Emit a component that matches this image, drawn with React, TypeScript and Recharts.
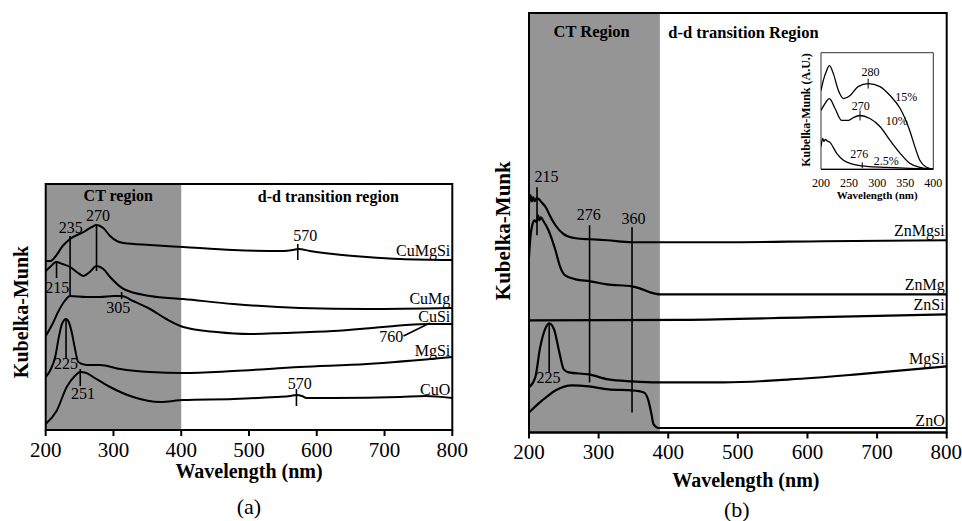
import React from 'react';
import {
  LineChart,
  Line,
  XAxis,
  YAxis,
  ReferenceArea,
  ReferenceLine,
  ReferenceDot,
} from 'recharts';

const FONT = "'Liberation Serif', 'Times New Roman', 'DejaVu Serif', serif";

// ---------- panel (a): Cu samples ----------
const aTicks = [200, 300, 400, 500, 600, 700, 800];

const cuMgSiNm = [200, 207, 215, 225, 236, 256, 268, 275, 285, 295, 305, 315, 354, 403, 477, 551, 565, 573, 590, 624, 674, 723, 800];
const cuMgSiKm = [169, 169, 174, 184, 191, 198, 203, 205, 202, 194, 189, 187, 185, 183, 180, 179, 180, 181, 179, 176, 173, 171, 170];

const cuMgNm = [200, 208, 215, 225, 236, 248, 256, 265, 275, 285, 295, 315, 354, 403, 477, 575, 674, 800];
const cuMgKm = [159, 164, 168, 166, 163, 157, 154, 158, 164, 161, 153, 141, 134, 131, 126, 122, 121, 122];

const cuSiNm = [200, 210, 219, 228, 236, 260, 280, 300, 312, 329, 354, 378, 403, 452, 501, 551, 624, 698, 762, 800];
const cuSiKm = [94, 106, 119, 129, 134, 133, 133, 134, 134, 129, 121, 111, 103, 98, 96, 97, 99, 103, 106, 106];

const mgSiANm = [200, 207, 214, 220, 224, 230, 234, 238, 243, 248, 260, 280, 310, 354, 403, 477, 575, 674, 800];
const mgSiAKm = [53, 60, 73, 95, 106, 111, 108, 99, 82, 68, 65, 65, 61, 58, 57, 59, 63, 66, 73];

const cuONm = [200, 216, 231, 243, 251, 260, 270, 295, 329, 369, 403, 477, 540, 561, 570, 578, 585, 624, 723, 760, 800];
const cuOKm = [6, 19, 43, 54, 58, 57, 53, 43, 33, 28, 30, 31, 33, 34, 35, 34, 32, 32, 33, 34, 32];

const aNames = ['CuMgSi', 'CuMg', 'CuSi', 'MgSi', 'CuO'];
const aNameKm = [180, 132, 114, 80, 41];

const aPeakNm = [275, 236, 216, 312, 230, 251, 572, 570];
const aPeakTop = [205, 194, 169, 138, 111, 61, 186, 41];
const aPeakBottom = [159, 133, 152, 131, 71, 44, 170, 24];

const aNoteText = ['270', '235', '215', '305', '225', '251', '570', '570', '760'];
const aNoteNm = [277, 237, 217, 307, 230, 255, 583, 575, 710];
const aNoteKm = [215, 203, 143, 123, 67, 37, 195, 47, 94];

// ---------- panel (b): Zn samples ----------
const znMgSiNm = [200, 202, 204, 206, 208, 211, 214, 218, 225, 229, 238, 250, 267, 288, 312, 348, 388, 479, 623, 800];
const znMgSiKm = [228, 237, 231, 235, 231, 234, 233, 230, 224, 218, 207, 198, 194, 193, 192, 190, 190, 190, 191, 192];

const znMgNm = [200, 202, 205, 208, 211, 213, 215, 217, 220, 228, 238, 245, 252, 267, 288, 312, 348, 359, 374, 388, 500, 800];
const znMgKm = [175, 195, 208, 212, 210, 217, 212, 215, 212, 202, 182, 165, 157, 153, 151, 148, 146, 144, 140, 138, 138, 138];

const znSiNm = [200, 420, 600, 800];
const znSiKm = [112, 112.5, 115, 118];

const mgSiBNm = [200, 209, 216, 223, 229, 236, 243, 250, 257, 286, 314, 348, 386, 479, 575, 671, 800];
const mgSiBKm = [45, 55, 85, 103, 109, 103, 82, 63, 60, 58, 53, 51, 50, 50, 53, 58, 66];

const znONm = [200, 219, 238, 262, 286, 314, 348, 365, 371, 376, 379, 386, 500, 800];
const znOKm = [20, 32, 42, 47, 46, 43, 42, 40, 33, 18, 8, 4.5, 4.5, 4.5];

const bNames = ['ZnMgsi', 'ZnMg', 'ZnSi', 'MgSi', 'ZnO'];
const bNameKm = [202, 148, 128, 74, 12];

const bPeakNm = [211.5, 287, 348, 229];
const bPeakTop = [245, 207, 205, 109];
const bPeakBottom = [197, 50, 20, 60];

const bNoteText = ['215', '276', '360', '225'];
const bNoteNm = [225, 286, 350, 228];
const bNoteKm = [256, 218, 214, 55];

// ---------- inset: ZnO loading ----------
const insetTicks = [200, 250, 300, 350, 400];

const p15Nm = [200, 204, 210, 215, 222, 231, 240, 252, 266, 284, 305, 323, 341, 358, 367, 376, 388, 400];
const p15Km = [79, 89, 99, 104, 96, 79, 71, 74, 83, 86, 83, 74, 61, 39, 23, 9, 2, 0];

const p10Nm = [200, 207, 215, 225, 237, 249, 258, 269, 287, 305, 323, 341, 358, 376, 400];
const p10Km = [59, 66, 71, 61, 49, 49, 52, 54, 51, 43, 29, 16, 6, 2, 0];

const p25Nm = [200, 203, 205, 208, 210, 216, 228, 240, 258, 281, 317, 358, 400];
const p25Km = [23, 31, 28, 30, 29, 27, 16, 9, 5, 3, 2, 1, 0];

const insetPeakNm = [284, 269.5, 273.5];
const insetPeakTop = [91, 59, 7];
const insetPeakBottom = [81, 49, 1];

const insetNoteText = ['280', '270', '276', '15%', '10%', '2.5%'];
const insetNoteNm = [288, 271, 268, 352, 335, 316];
const insetNoteKm = [98, 64, 16, 73, 49, 9];

type Pt = { nm: number; km: number };
const zip = (nm: number[], km: number[]): Pt[] => nm.map((v, i) => ({ nm: v, km: km[i] }));

const aCurves = [zip(cuMgSiNm, cuMgSiKm), zip(cuMgNm, cuMgKm), zip(cuSiNm, cuSiKm), zip(mgSiANm, mgSiAKm), zip(cuONm, cuOKm)];
const bCurves = [zip(znMgSiNm, znMgSiKm), zip(znMgNm, znMgKm), zip(znSiNm, znSiKm), zip(mgSiBNm, mgSiBKm), zip(znONm, znOKm)];
const insetCurves = [zip(p15Nm, p15Km), zip(p10Nm, p10Km), zip(p25Nm, p25Km)];

function curves(list: Pt[][], width: number) {
  return list.map((d, i) => (
    <Line
      key={`c${i}`}
      data={d}
      dataKey='km'
      type='monotone'
      stroke='#000'
      strokeWidth={width}
      dot={false}
      isAnimationActive={false}
    />
  ));
}

function peaks(nm: number[], top: number[], bottom: number[], width: number) {
  return nm.map((x, i) => (
    <ReferenceLine
      key={`p${i}`}
      segment={[{ x, y: top[i] }, { x, y: bottom[i] }]}
      stroke='#000'
      strokeWidth={width}
      ifOverflow='visible'
    />
  ));
}

function notes(nm: number[], km: number[], text: string[], size: number) {
  return text.map((t, i) => (
    <ReferenceDot
      key={`n${i}`}
      x={nm[i]}
      y={km[i]}
      r={0}
      stroke='none'
      fill='none'
      ifOverflow='visible'
      label={{ value: t, position: 'center', fill: '#000', fontSize: size, fontFamily: FONT }}
    />
  ));
}

function names(text: string[], km: number[]) {
  return text.map((t, i) => (
    <ReferenceDot
      key={`s${i}`}
      x={800}
      y={km[i]}
      r={0}
      stroke='none'
      fill='none'
      ifOverflow='visible'
      label={{ value: t, position: 'left', offset: 2, fill: '#000', fontSize: 16, fontFamily: FONT }}
    />
  ));
}

function header(x: number, y: number, text: string, size: number) {
  return (
    <ReferenceDot
      x={x}
      y={y}
      r={0}
      stroke='none'
      fill='none'
      ifOverflow='visible'
      label={{ value: text, position: 'center', fill: '#000', fontSize: size, fontWeight: 'bold', fontFamily: FONT }}
    />
  );
}

const xTitle = (titleDy: number, letterDy: number, letter: string, titleDx: number, letterDx: number) =>
  (props: any) => {
    const { x, y, width } = props.viewBox;
    const cx = x + width / 2;
    return (
      <g fontFamily={FONT}>
        <text x={cx + titleDx} y={y + titleDy} textAnchor='middle' fontSize={20} fontWeight='bold' fill='#000'>
          Wavelength (nm)
        </text>
        <text x={cx + letterDx} y={y + letterDy} textAnchor='middle' fontSize={22} fill='#000'>
          {letter}
        </text>
      </g>
    );
  };

const yTitle = (text: string, baseX: number, shiftY: number, size: number) => (props: any) => {
  const { x, y, height } = props.viewBox;
  const cx = x + baseX;
  const cy = y + height / 2 + shiftY;
  return (
    <text
      x={cx}
      y={cy}
      transform={`rotate(-90 ${cx} ${cy})`}
      textAnchor='middle'
      fontSize={size}
      fontWeight='bold'
      fontFamily={FONT}
      fill='#000'
    >
      {text}
    </text>
  );
};

const insetTitle = (props: any) => {
  const { x, y, width } = props.viewBox;
  return (
    <text x={x + width / 2} y={y + 30} textAnchor='middle' fontSize={11} fontWeight='bold' fontFamily={FONT} fill='#000'>
      Wavelength (nm)
    </text>
  );
};

const mainTick = { fontSize: 21, fill: '#000', fontFamily: FONT };

export default function App() {
  return (
    <div
      style={{
        position: 'absolute',
        left: 0,
        top: 0,
        width: 962,
        height: 521,
        background: '#fff',
        fontFamily: FONT,
      }}
    >
      <div style={{ position: 'absolute', left: 0, top: 0 }}>
        <LineChart width={470} height={521} margin={{ top: 184, right: 17.7, bottom: 61, left: 0 }} style={{ fontFamily: FONT }}>
          <XAxis
            dataKey='nm'
            type='number'
            domain={[200, 800]}
            ticks={aTicks}
            allowDataOverflow
            height={30}
            tickSize={6}
            tickMargin={6}
            tick={mainTick}
            axisLine={{ stroke: '#000', strokeWidth: 2 }}
            tickLine={{ stroke: '#000', strokeWidth: 2 }}
            label={xTitle(48, 84, '(a)', 0, 0)}
          />
          <YAxis
            type='number'
            domain={[0, 246]}
            allowDataOverflow
            width={45.7}
            tick={false}
            tickLine={false}
            axisLine={false}
            label={yTitle('Kubelka-Munk', 28, 5, 20)}
          />
          <ReferenceArea x1={200} x2={400} y1={0} y2={246} fill='#959595' fillOpacity={1} stroke='none' />
          {curves(aCurves, 2)}
          {peaks(aPeakNm, aPeakTop, aPeakBottom, 1.6)}
          <ReferenceLine segment={[{ x: 728, y: 94 }, { x: 767, y: 107 }]} stroke='#000' strokeWidth={1.6} />
          {notes(aNoteNm, aNoteKm, aNoteText, 16)}
          {names(aNames, aNameKm)}
          {header(307, 235, 'CT region', 16)}
          {header(617, 234, 'd-d transition region', 16)}
          <ReferenceArea x1={200} x2={800} y1={0} y2={246} fill='none' stroke='#000' strokeWidth={2} />
        </LineChart>
      </div>

      <div style={{ position: 'absolute', left: 490, top: 0 }}>
        <LineChart width={472} height={521} margin={{ top: 13, right: 15.3, bottom: 58.5, left: 0 }} style={{ fontFamily: FONT }}>
          <XAxis
            dataKey='nm'
            type='number'
            domain={[200, 800]}
            ticks={aTicks}
            allowDataOverflow
            height={30}
            tickSize={6}
            tickMargin={6}
            tick={mainTick}
            axisLine={{ stroke: '#000', strokeWidth: 2 }}
            tickLine={{ stroke: '#000', strokeWidth: 2 }}
            label={xTitle(54.5, 84.5, '(b)', 8, -1)}
          />
          <YAxis
            type='number'
            domain={[0, 419]}
            allowDataOverflow
            width={39}
            tick={false}
            tickLine={false}
            axisLine={false}
            label={yTitle('Kubelka-Munk', 20, 8, 21)}
          />
          <ReferenceArea x1={200} x2={388} y1={0} y2={419} fill='#959595' fillOpacity={1} stroke='none' />
          {curves(bCurves, 2.2)}
          {peaks(bPeakNm, bPeakTop, bPeakBottom, 1.6)}
          {notes(bNoteNm, bNoteKm, bNoteText, 16)}
          {names(bNames, bNameKm)}
          {header(290, 401, 'CT Region', 16.5)}
          {header(508, 400, 'd-d transition Region', 16.5)}
          <ReferenceArea x1={200} x2={800} y1={0} y2={419} fill='none' stroke='#000' strokeWidth={2} />
        </LineChart>
      </div>

      <div style={{ position: 'absolute', left: 790, top: 40 }}>
        <LineChart width={155} height={170} margin={{ top: 12.7, right: 11.7, bottom: 20.7, left: 0 }} style={{ fontFamily: FONT }}>
          <XAxis
            dataKey='nm'
            type='number'
            domain={[200, 400]}
            ticks={insetTicks}
            allowDataOverflow
            height={20}
            tickSize={3}
            tickMargin={6}
            tick={{ fontSize: 12, fill: '#000', fontFamily: FONT }}
            axisLine={{ stroke: '#000', strokeWidth: 1.2 }}
            tickLine={false}
            label={insetTitle}
          />
          <YAxis
            type='number'
            domain={[0, 117]}
            allowDataOverflow
            width={31}
            tick={false}
            tickLine={false}
            axisLine={false}
            label={yTitle('Kubelka-Munk (A.U.)', 20, -1, 12)}
          />
          {curves(insetCurves, 1.3)}
          {peaks(insetPeakNm, insetPeakTop, insetPeakBottom, 1)}
          {notes(insetNoteNm, insetNoteKm, insetNoteText, 12)}
          <ReferenceArea x1={200} x2={400} y1={0} y2={117} fill='none' stroke='#333' strokeWidth={1} />
        </LineChart>
      </div>
    </div>
  );
}
